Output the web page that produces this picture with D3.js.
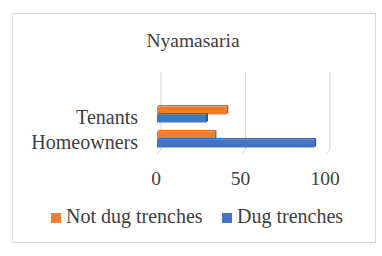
<!DOCTYPE html>
<html>
<head>
<meta charset="utf-8">
<script src="https://cdn.jsdelivr.net/npm/d3@7"></script>
<style>
  body { margin: 0; background: #fff; }
  text { font-family: "Liberation Serif", "Times New Roman", serif; fill: #404040; }
</style>
</head>
<body>
<div class="chart"></div>
<script>
// chart data
var categories = ["Tenants", "Homeowners"];
var seriesNames = ["Not dug trenches", "Dug trenches"];
var notDug = [41, 34];
var dug = [29, 93];
var xTicks = [0, 50, 100];
var colors = ["#ED7D31", "#4472C4"];
var sideColors = ["#B35A1F", "#2F5597"];
var topColors = ["#D46A25", "#3A63AE"];

var svgWidth = 382, svgHeight = 256;
var depth = 3; // 3d offset between front and back wall

var svg = d3.select(".chart").append("svg")
  .attr("width", svgWidth)
  .attr("height", svgHeight);

// outer border
svg.append("rect")
  .attr("x", 12.5).attr("y", 13.5)
  .attr("width", 363).attr("height", 229)
  .attr("fill", "none")
  .attr("stroke", "#d9d9d9");

// title
svg.append("text")
  .attr("x", 193).attr("y", 47)
  .attr("text-anchor", "middle")
  .style("font-size", "19.5px")
  .text("Nyamasaria");

// scales (front plane)
var x = d3.scaleLinear().domain([0, 100]).range([157, 326]);
var y = d3.scaleBand().domain(categories).range([102, 152])
  .paddingInner(0.36).paddingOuter(0.18);
var ySub = d3.scaleBand().domain(seriesNames).range([0, y.bandwidth()]);

// back wall gridlines with floor slant
var grid = svg.append("g");
xTicks.forEach(function(t) {
  var bx = x(t) + depth + 1;
  grid.append("path")
    .attr("d", "M" + bx + ",72 L" + bx + ",150 L" + (bx - 4) + ",154")
    .attr("fill", "none")
    .attr("stroke", "#d9d9d9")
    .attr("stroke-width", 1);
});

// tick labels
svg.append("g").selectAll("text")
  .data(xTicks)
  .enter().append("text")
  .attr("x", function(d) { return x(d) - 1; })
  .attr("y", 185)
  .attr("text-anchor", "middle")
  .style("font-size", "19.5px")
  .text(function(d) { return d; });

// category labels
svg.append("g").selectAll("text")
  .data(categories)
  .enter().append("text")
  .attr("x", 138)
  .attr("y", function(d) { return y(d) + y.bandwidth() / 2 + 9; })
  .attr("text-anchor", "end")
  .style("font-size", "20px")
  .text(function(d) { return d; });

// bars with a small 3d side and top
var rows = [];
categories.forEach(function(c, i) {
  rows.push({ cat: c, series: seriesNames[0], value: notDug[i], k: 0 });
  rows.push({ cat: c, series: seriesNames[1], value: dug[i], k: 1 });
});

var bars = svg.append("g").selectAll("g")
  .data(rows)
  .enter().append("g");

bars.append("path")
  .attr("fill", function(d) { return topColors[d.k]; })
  .attr("d", function(d) {
    var y0 = y(d.cat) + ySub(d.series), x0 = x(0), x1 = x(d.value);
    return "M" + x0 + "," + y0 + " L" + (x0 + 2) + "," + (y0 - 1.5) +
      " L" + (x1 + 2) + "," + (y0 - 1.5) + " L" + x1 + "," + y0 + "Z";
  });

bars.append("path")
  .attr("fill", function(d) { return sideColors[d.k]; })
  .attr("d", function(d) {
    var y0 = y(d.cat) + ySub(d.series), h = ySub.bandwidth(), x1 = x(d.value);
    return "M" + x1 + "," + y0 + " L" + (x1 + 2) + "," + (y0 - 1.5) +
      " L" + (x1 + 2) + "," + (y0 + h - 1.5) + " L" + x1 + "," + (y0 + h) + "Z";
  });

bars.append("rect")
  .attr("x", x(0))
  .attr("y", function(d) { return y(d.cat) + ySub(d.series); })
  .attr("width", function(d) { return x(d.value) - x(0); })
  .attr("height", ySub.bandwidth())
  .attr("fill", function(d) { return colors[d.k]; });

// legend
var legendX = [51, 222];
var legend = svg.append("g").selectAll("g")
  .data(seriesNames)
  .enter().append("g")
  .attr("transform", function(d, i) { return "translate(" + legendX[i] + ",213)"; });

legend.append("rect")
  .attr("width", 10).attr("height", 10)
  .attr("fill", function(d, i) { return colors[i]; });

legend.append("text")
  .attr("x", 15).attr("y", 10)
  .style("font-size", "20px")
  .text(function(d) { return d; });
</script>
</body>
</html>
